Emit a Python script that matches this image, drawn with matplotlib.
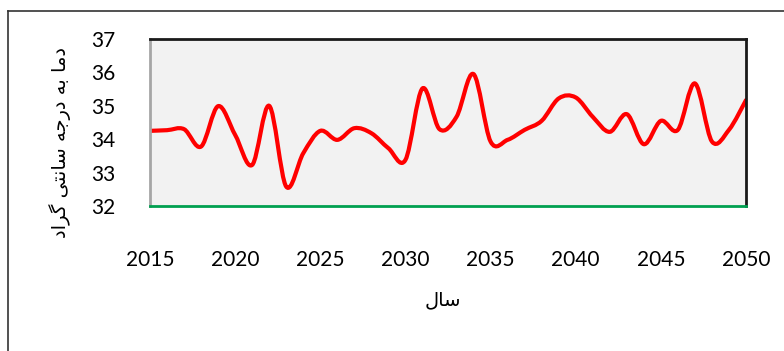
import numpy as np
import matplotlib
matplotlib.use("Agg")
import matplotlib.pyplot as plt
from matplotlib.path import Path
from matplotlib.patches import PathPatch
from matplotlib.lines import Line2D

# --- data ------------------------------------------------------------
years = list(range(2015, 2051))
temps = [34.25, 34.27, 34.30, 33.78, 34.99, 34.13, 33.23, 35.00, 32.58, 33.58,
         34.25, 33.98, 34.33, 34.18, 33.73, 33.38, 35.52, 34.30, 34.67, 35.95,
         33.93, 33.98, 34.28, 34.55, 35.22, 35.25, 34.67, 34.22, 34.75, 33.85,
         34.55, 34.28, 35.67, 33.93, 34.28, 35.17]
y_ticks = [32, 33, 34, 35, 36, 37]
x_ticks = [2015, 2020, 2025, 2030, 2035, 2040, 2045, 2050]

# Persian labels, written in presentation forms and reversed for display
# (matplotlib does no Arabic shaping on its own).
ylabel_logical = ("\uFEA9\uFEE3\uFE8E \uFE91\uFEEA \uFEA9\uFEAD\uFE9F\uFEEA "
                  "\uFEB3\uFE8E\uFEE7\uFE98\uFEF0 \uFB94\uFEAE\uFE8D\uFEA9")
xlabel_logical = "\uFEB3\uFE8E\uFEDD"
ylabel = "".join(reversed(ylabel_logical))
xlabel = "".join(reversed(xlabel_logical))


def smooth_path(xs, ys):
    """Excel-style smoothed line: cubic Bezier through every point."""
    p = np.column_stack([xs, ys]).astype(float)
    n = len(p)
    verts = [p[0]]
    codes = [Path.MOVETO]
    for i in range(n - 1):
        prev = p[i - 1] if i > 0 else p[i]
        nxt = p[i + 2] if i + 2 < n else p[i + 1]
        c1 = p[i] + (p[i + 1] - prev) / 6
        c2 = p[i + 1] - (nxt - p[i]) / 6
        verts += [c1, c2, p[i + 1]]
        codes += [Path.CURVE4] * 3
    return Path(verts, codes)


W, H = 784, 351
fig = plt.figure(figsize=(W / 100, H / 100), dpi=100)
ax = fig.add_axes([150 / W, 1 - 206 / H, (746 - 150) / W, (206 - 39) / H])
ax.set_facecolor("#F2F2F2")

patch = PathPatch(smooth_path(years, temps), facecolor="none",
                  edgecolor="#FF0000", lw=3, capstyle="round", joinstyle="round")
ax.add_patch(patch)

ax.set_xlim(2015, 2050)
ax.set_ylim(32, 37)
ax.set_xticks(x_ticks)
ax.set_yticks(y_ticks)
ax.tick_params(length=0, labelsize=15)
ax.tick_params(axis="y", pad=25)
ax.tick_params(axis="x", pad=32)
for lab in ax.get_xticklabels() + ax.get_yticklabels():
    lab.set_family("Lato")

ax.spines["top"].set_color("#1a1a1a")
ax.spines["right"].set_color("#1a1a1a")
ax.spines["left"].set_color("#A6A6A6")
ax.spines["bottom"].set_color("#00A050")
for s in ax.spines.values():
    s.set_linewidth(2)

fig.text(60 / W, 1 - 142 / H, ylabel, rotation=90, ha="center", va="center",
         fontsize=14, family="DejaVu Sans")
fig.text(443 / W, 1 - 300 / H, xlabel, ha="center", va="center",
         fontsize=14, family="DejaVu Sans")

# chart-area border (only left and top edges are visible in the crop)
fig.add_artist(Line2D([8 / W, 8 / W], [0, 1 - 10.5 / H], color="#333333", lw=1.2))
fig.add_artist(Line2D([8 / W, 1], [1 - 10.5 / H, 1 - 10.5 / H], color="#333333", lw=1.2))

fig.savefig("out.png", dpi=100)
